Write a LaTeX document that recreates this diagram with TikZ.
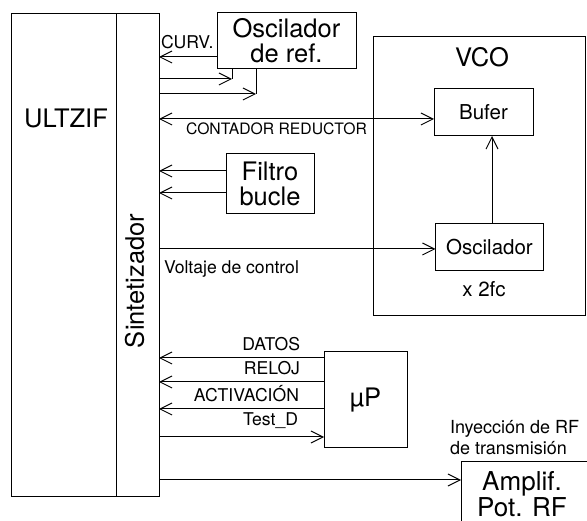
\documentclass[tikz,border=0pt]{standalone}
\usepackage{fontspec}
\setmainfont{TeX Gyre Heros}
\usetikzlibrary{arrows.meta}
\begin{document}
\begin{tikzpicture}[x=1pt,y=-1pt,line width=1pt,
  arr/.style={-{Straight Barb[length=12pt,width=12pt]}},
  darr/.style={{Straight Barb[length=12pt,width=12pt]}-{Straight Barb[length=12pt,width=12pt]}},
  box/.style={draw,inner sep=0pt,outer sep=0pt},
  big/.style={font=\fontsize{25.5}{25}\selectfont,align=center},
  mid/.style={font=\fontsize{20.5}{22}\selectfont},
  lbl/.style={font=\fontsize{17.6}{21}\selectfont,inner sep=0pt},
  tiny/.style={font=\fontsize{15.7}{18}\selectfont,inner sep=0pt}]
\useasboundingbox (0,0) rectangle (587,521);
\clip (0,0) rectangle (587,521);
% main blocks
\node[box,minimum width=105pt,minimum height=483pt] (ultzif) at (63.5,255.5) {};
\node[big] (ultzlabel) at (66,118) {ULTZIF};
\node[box,minimum width=43pt,minimum height=483pt] (sint) at (137.5,255.5) {};
\node[big,rotate=90] (sintlabel) at (134.5,281) {Sintetizador};
\node[box,big,minimum width=139pt,minimum height=56pt] (oscref) at (286.5,41) {Oscilador\\de ref.};
\node[box,big,minimum width=88pt,minimum height=60pt] (filtro) at (270,184) {Filtro\\bucle};
\node[box,minimum width=212pt,minimum height=279pt] (vco) at (479,176.5) {};
\node[font=\fontsize{25.5}{25}\selectfont] (vcolabel) at (482,57) {VCO};
\node[box,mid,minimum width=99pt,minimum height=47pt] (bufer) at (483.5,112.5) {Bufer};
\node[box,mid,minimum width=108pt,minimum height=47pt] (oscvco) at (489.5,247.5) {Oscilador};
\node[mid] (x2fc) at (484,289) {x 2fc};
\node[box,big,minimum width=83pt,minimum height=96pt] (up) at (365.5,400) {µP};
\node[box,minimum width=150pt,minimum height=100pt,anchor=north west] (amp) at (461,462) {};
\node[font=\fontsize{26}{22}\selectfont,align=center] (amplabel) at (522,494) {Amplif.\\Pot. RF};
\node[font=\fontsize{18}{21}\selectfont,align=left,inner sep=0pt,anchor=west] (iny) at (449.5,437.5) {Inyección de RF\\de transmisión};
% oscilador de ref.
\draw[arr] (oscref.west |- 0,57) -- (sint.east |- 0,57);
\node[lbl,anchor=west] (curv) at (160.5,42) {CURV.};
\coordinate (r1) at (232,79);
\coordinate (r2) at (256,94);
\draw[arr] (sint.east |- r1) -- (r1);
\draw (r1) -- (r1 |- oscref.south);
\draw[arr] (sint.east |- r2) -- (r2);
\draw (r2) -- (r2 |- oscref.south);
% contador reductor
\draw[darr] (sint.east |- 0,119) -- (bufer.west |- 0,119);
\node[tiny] (cont) at (276.5,128.5) {CONTADOR REDUCTOR};
% filtro
\draw[arr] (filtro.west |- 0,171) -- (sint.east |- 0,171);
\draw[arr] (filtro.west |- 0,193) -- (sint.east |- 0,193);
% voltaje de control
\draw[arr] (sint.east |- 0,249) -- (oscvco.west |- 0,249);
\node[lbl,anchor=base west] (volt) at (163.5,273.5) {Voltaje de control};
% VCO internal
\draw[arr] (oscvco.north -| 492,0) -- (bufer.south -| 492,0);
% microprocessor
\draw[arr] (up.west |- 0,358) -- (sint.east |- 0,358);
\draw[arr] (up.west |- 0,382) -- (sint.east |- 0,382);
\draw[arr] (up.west |- 0,409) -- (sint.east |- 0,409);
\draw[arr] (sint.east |- 0,437) -- (up.west |- 0,437);
\node[lbl,anchor=base east] (datos) at (300.5,350.5) {DATOS};
\node[lbl,anchor=base east] (reloj) at (300.5,375) {RELOJ};
\node[lbl,anchor=base east] (activ) at (299.5,401.5) {ACTIVACIÓN};
\node[lbl,anchor=base east] (testd) at (298.5,426) {Test\_D};
% amplificador
\draw[arr] (sint.east |- 0,480) -- (amp.west |- 0,480);
\end{tikzpicture}
\end{document}
